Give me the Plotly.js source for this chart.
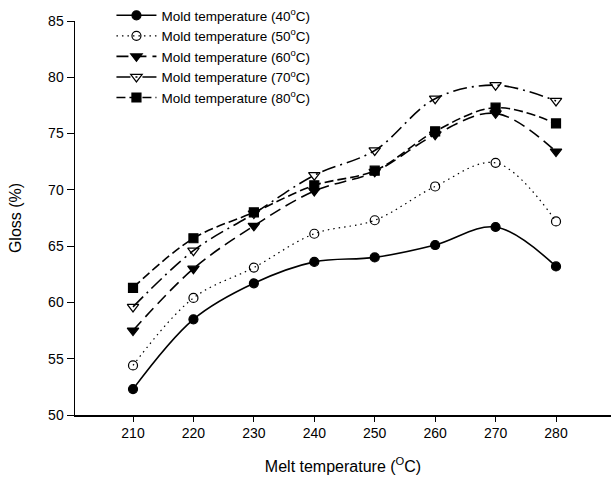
<!DOCTYPE html>
<html>
<head>
<meta charset="utf-8">
<script src="https://cdn.plot.ly/plotly-3.0.1.min.js"></script>
<style>html,body{margin:0;padding:0;background:#fff;}#chart{width:611px;height:483px;}</style>
</head>
<body>
<div id="chart"></div>
<script>
const meltTemp = [210, 220, 230, 240, 250, 260, 270, 280];
const gloss40 = [52.3, 58.5, 61.7, 63.6, 64.0, 65.1, 66.7, 63.2];
const gloss50 = [54.4, 60.4, 63.1, 66.1, 67.3, 70.3, 72.4, 67.2];
const gloss60 = [57.5, 63.0, 66.8, 69.9, 71.6, 74.9, 76.8, 73.4];
const gloss70 = [59.6, 64.6, 67.9, 71.3, 73.5, 78.1, 79.3, 77.9];
const gloss80 = [61.3, 65.7, 68.0, 70.4, 71.7, 75.2, 77.3, 75.9];
const seriesNames = [
  'Mold temperature (40<sup>o</sup>C)',
  'Mold temperature (50<sup>o</sup>C)',
  'Mold temperature (60<sup>o</sup>C)',
  'Mold temperature (70<sup>o</sup>C)',
  'Mold temperature (80<sup>o</sup>C)'
];
const yTicks = [50, 55, 60, 65, 70, 75, 80, 85];

const ys = [gloss40, gloss50, gloss60, gloss70, gloss80];
const dashes = ['solid', '1.5px,4px', '12px,6px', '14px,5px,2px,5px', '9px,4px'];
const symbols = ['circle', 'circle-open', 'triangle-down', 'triangle-down-open', 'square'];
const lineWidths = [1.6, 1.2, 1.6, 1.6, 1.6];

const traces = ys.map((y, i) => ({
  x: meltTemp,
  y: y,
  name: seriesNames[i],
  type: 'scatter',
  mode: 'lines+markers',
  line: {color: '#000', width: lineWidths[i], dash: dashes[i], shape: 'spline', smoothing: 1},
  marker: {color: '#000', symbol: symbols[i], size: symbols[i].indexOf('triangle') === 0 ? 10 : 9,
           line: {color: '#000', width: 1.2}}
}));

const layout = {
  width: 611,
  height: 483,
  margin: {l: 75, r: 0, t: 20, b: 68},
  paper_bgcolor: '#fff',
  plot_bgcolor: '#fff',
  font: {family: 'Liberation Sans, Arial, sans-serif', color: '#000', size: 13},
  showlegend: true,
  legend: {
    x: 0.068, y: 1.052, xanchor: 'left', yanchor: 'top',
    bgcolor: 'rgba(0,0,0,0)', borderwidth: 0,
    font: {size: 13.5, color: '#000'},
    tracegroupgap: 0, itemwidth: 40
  },
  xaxis: {
    range: [200.4, 289.1],
    tickvals: meltTemp,
    ticks: 'outside', ticklen: 5, tickcolor: '#000', tickwidth: 1,
    showline: true, linecolor: '#000', linewidth: 1.5,
    showgrid: false, zeroline: false,
    tickfont: {size: 14, color: '#000'},
    title: {text: 'Melt temperature (<sup>O</sup>C)', font: {size: 16, color: '#000'}, standoff: 20}
  },
  yaxis: {
    range: [50, 85],
    tickvals: yTicks,
    ticks: 'outside', ticklen: 7, tickcolor: '#000', tickwidth: 1,
    showline: true, linecolor: '#000', linewidth: 1.5,
    showgrid: false, zeroline: false,
    tickfont: {size: 14, color: '#000'},
    title: {text: 'Gloss (%)', font: {size: 16, color: '#000'}, standoff: 22}
  }
};

Plotly.newPlot('chart', traces, layout, {staticPlot: true, displayModeBar: false});
</script>
</body>
</html>
